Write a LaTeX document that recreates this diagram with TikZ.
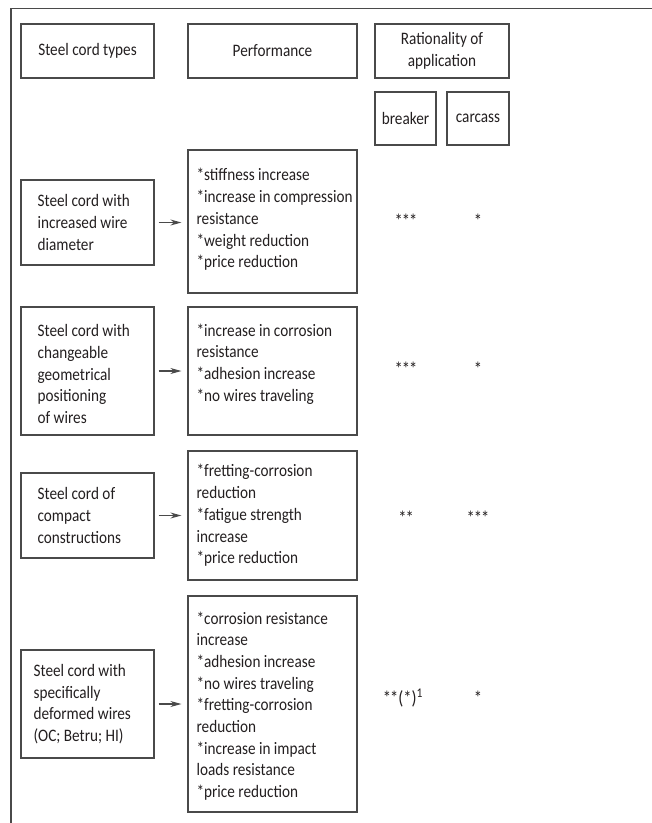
\documentclass[tikz,border=0pt]{standalone}
\usepackage{fontspec}
\setmainfont{Carlito}[FakeStretch=0.87]
\usetikzlibrary{arrows.meta}
\definecolor{linegray}{HTML}{4A4A4A}
\definecolor{textcol}{HTML}{231F20}
\begin{document}
\begin{tikzpicture}[x=1pt,y=-1pt,
  txt/.style={text=textcol,font=\fontsize{17.5}{21.7}\selectfont},
  box/.style={draw=linegray,line width=1.2pt,inner sep=0pt,txt,align=center},
  leftbox/.style={draw=linegray,line width=1.2pt,inner sep=0pt,minimum width=133pt},
  perfbox/.style={draw=linegray,line width=1.2pt,inner sep=0pt,minimum width=169pt},
  inbox/.style={txt,anchor=west,inner sep=0pt,align=left},
  stars/.style={anchor=base,inner sep=0pt,text=textcol,font=\fontsize{19}{21.7}\selectfont},
  arr/.style={draw=linegray,line width=1.1pt,-{Stealth[length=11pt,width=6pt]},
    shorten <=4pt,shorten >=6pt}]
\useasboundingbox (0,0) rectangle (652,823);
\fill[white] (0,0) rectangle (652,823);
% frame
\draw[linegray,line width=1.3pt] (652,8.5) -- (11,8.5) -- (11,823);
% headers
\node[box,minimum width=133pt,minimum height=54pt] (h1) at (87.5,51) {Steel cord types};
\node[box,minimum width=169pt,minimum height=54pt] (h2) at (272.5,51) {Performance};
\node[box,minimum width=134pt,minimum height=54pt] (h3) at (442,51) {Rationality of\\application};
\node[box,minimum width=61pt,minimum height=53pt] (hb) at (405.5,118.5) {breaker};
\node[box,minimum width=62pt,minimum height=53pt] (hc) at (478,118.5) {carcass};
% row 1
\node[leftbox,minimum height=85pt] (l1) at (87.5,222.5) {};
\node[inbox] (s1) at ([xshift=17pt]l1.west) {Steel cord with\\increased wire\\diameter};
\node[perfbox,minimum height=143pt] (p1) at (272.5,221.5) {};
\node[inbox] (t1) at ([xshift=9pt,yshift=2pt]p1.west) {*stiffness increase\\{}*increase in compression\\resistance\\{}*weight reduction\\{}*price reduction};
\draw[arr] (l1.east) -- (l1.east -| p1.west);
\node[stars] (b1) at (406,227) {*\kern-1pt*\kern-1pt*};
\node[stars] (c1) at (478,227) {*};
% row 2
\node[leftbox,minimum height=128pt] (l2) at (87.5,371) {};
\node[inbox] (s2) at ([xshift=17pt,yshift=-3pt]l2.west) {Steel cord with\\changeable\\geometrical\\positioning\\of wires};
\node[perfbox,minimum height=128pt] (p2) at (272.5,371) {};
\node[inbox] (t2) at ([xshift=9pt,yshift=7pt]p2.west) {*increase in corrosion\\resistance\\{}*adhesion increase\\{}*no wires traveling};
\draw[arr] (l2.east) -- (l2.east -| p2.west);
\node[stars] (b2) at (406,375) {*\kern-1pt*\kern-1pt*};
\node[stars] (c2) at (478,375) {*};
% row 3
\node[leftbox,minimum height=85pt] (l3) at (87.5,515.5) {};
\node[inbox] (s3) at ([xshift=17pt]l3.west) {Steel cord of\\compact\\constructions};
\node[perfbox,minimum height=129pt] (p3) at (272.5,515.5) {};
\node[inbox] (t3) at ([xshift=9pt]p3.west) {*fretting-corrosion\\reduction\\{}*fatigue strength\\increase\\{}*price reduction};
\draw[arr] (l3.east) -- (l3.east -| p3.west);
\node[stars] (b3) at (406,524) {*\kern-1pt*};
\node[stars] (c3) at (478,524) {*\kern-1pt*\kern-1pt*};
% row 4
\node[leftbox,minimum height=108pt] (l4) at (87.5,704) {};
\node[inbox] (s4) at ([xshift=13pt]l4.west) {Steel cord with\\specifically\\deformed wires\\(OC; Betru; HI)};
\node[perfbox,minimum height=216pt] (p4) at (272.5,704) {};
\node[inbox] (t4) at ([xshift=9pt,yshift=-2pt]p4.west) {*corrosion resistance\\increase\\{}*adhesion increase\\{}*no wires traveling\\{}*fretting-corrosion\\reduction\\{}*increase in impact\\loads resistance\\{}*price reduction};
\draw[arr] (l4.east) -- (l4.east -| p4.west);
\node[stars] (b4) at (403,704) {*\kern-1pt*(*)\textsuperscript{1}};
\node[stars] (c4) at (478,704) {*};
\end{tikzpicture}
\end{document}
